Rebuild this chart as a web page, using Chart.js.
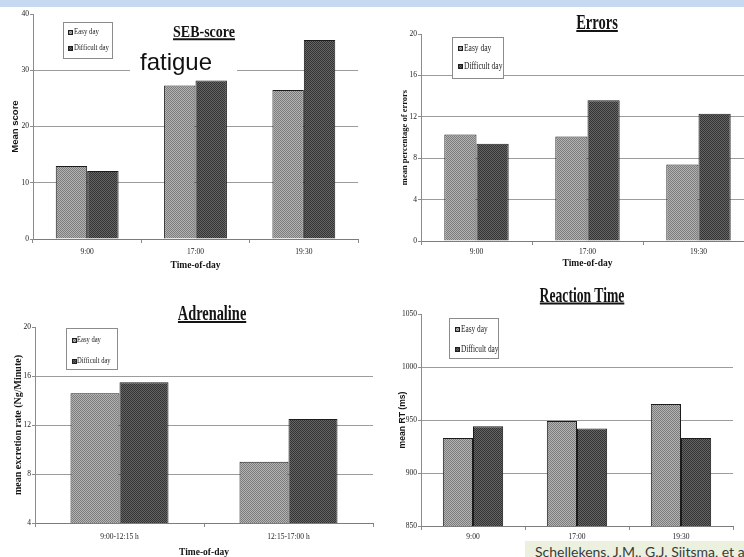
<!DOCTYPE html>
<html>
<head>
<meta charset="utf-8">
<script src="https://cdn.jsdelivr.net/npm/chart.js@4.4.1/dist/chart.umd.min.js"></script>
<style>
  html, body { margin: 0; padding: 0; width: 744px; height: 557px; overflow: hidden; background: #fff; }
  .band { position: absolute; left: 0; top: 0; width: 744px; height: 7px; background: #c6d9f1; }
  #charts { position: absolute; left: 0; top: 0; width: 760px; height: 580px; filter: blur(0.35px); }
  #charts canvas { position: absolute; }
  .ttl { position: absolute; font-family: "Liberation Serif", serif; font-weight: bold; color: #141414;
         text-decoration: underline; text-decoration-thickness: 1.5px; white-space: nowrap; line-height: 1; }
  .fatigue { position: absolute; left: 130px; top: 49px; width: 107px; height: 27px; background: #fff;
             font-family: "Liberation Sans", Arial, sans-serif; font-size: 24px; line-height: 27px; color: #111; }
  .fatigue span { position: absolute; left: 10px; top: -1px; }
  .cite { position: absolute; left: 525px; top: 541px; width: 219px; height: 16px; background: #ebf1de; overflow: hidden; }
  .cite span { position: absolute; left: 10px; top: 1px; font-family: Lato, sans-serif; font-size: 14px;
               line-height: 20px; color: #3a3a3a; white-space: nowrap; }
</style>
</head>
<body>
<div class="band"></div>
<div id="charts"></div>
<div class="fatigue"><span>fatigue</span></div>
<div class="cite"><span>Schellekens, J.M., G.J. Sijtsma, et al.</span></div>

<script>
// ---- data ----
const seriesNames = ['Easy day', 'Difficult day'];
const timesOfDay = ['9:00', '17:00', '19:30'];
const adrenalinePeriods = ['9:00-12:15 h', '12:15-17:00 h'];

const sebEasy = [13.0, 27.3, 26.5];
const sebDifficult = [12.1, 28.2, 35.4];
const sebTicks = [0, 10, 20, 30, 40];

const errorsEasy = [10.3, 10.1, 7.4];
const errorsDifficult = [9.4, 13.6, 12.3];
const errorsTicks = [0, 4, 8, 12, 16, 20];

const adrenalineEasy = [14.6, 9.0];
const adrenalineDifficult = [15.5, 12.5];
const adrenalineTicks = [4, 8, 12, 16, 20];

const rtEasy = [933, 949, 965];
const rtDifficult = [944, 942, 933];
const rtTicks = [850, 900, 950, 1000, 1050];

// ---- fine hatched fills like a laser-printed bar chart ----
function hatch(ctx, base, ink) {
  const t = document.createElement('canvas');
  t.width = t.height = 4;
  const g = t.getContext('2d');
  g.fillStyle = base; g.fillRect(0, 0, 4, 4);
  g.fillStyle = ink;
  for (let i = 0; i < 4; i++) { g.fillRect(i, i, 1, 1); g.fillRect(i, (i + 2) % 4, 1, 1); }
  return ctx.createPattern(t, 'repeat');
}

// ---- boxed legend drawn inside the plot ----
const boxLegend = {
  id: 'boxLegend',
  afterDraw(chart, args, o) {
    const ctx = chart.ctx;
    ctx.save();
    ctx.fillStyle = '#fff';
    ctx.fillRect(o.x, o.y, o.w, o.h);
    ctx.strokeStyle = '#8c8c8c'; ctx.lineWidth = 1;
    ctx.strokeRect(o.x + 0.5, o.y + 0.5, o.w, o.h);
    chart.data.datasets.forEach((ds, i) => {
      const ry = Math.round(o.rows[i]);
      ctx.fillStyle = ds.backgroundColor;
      ctx.fillRect(o.sx, ry - Math.floor(o.s / 2), o.s, o.s);
      ctx.strokeStyle = '#1e1e1e';
      ctx.strokeRect(o.sx + 0.5, ry - Math.floor(o.s / 2) + 0.5, o.s - 1, o.s - 1);
      ctx.save();
      ctx.translate(o.tx, ry);
      ctx.scale(o.squeeze, 1);
      ctx.font = o.size + 'px "Liberation Serif"';
      ctx.fillStyle = '#1a1a1a';
      ctx.textBaseline = 'middle';
      ctx.fillText(ds.label, 0, 0);
      ctx.restore();
    });
    ctx.restore();
  }
};

function makePanel(p) {
  const holder = document.getElementById('charts');
  const cv = document.createElement('canvas');
  cv.width = p.box.w; cv.height = p.box.h;
  cv.style.left = p.box.x + 'px'; cv.style.top = p.box.y + 'px';
  cv.style.width = p.box.w + 'px'; cv.style.height = p.box.h + 'px';
  holder.appendChild(cv);
  const ctx = cv.getContext('2d');

  const ticks = p.ticks;
  const yMax = ticks[ticks.length - 1];
  const lg = p.legend;

  new Chart(ctx, {
    type: 'bar',
    data: {
      labels: p.labels,
      datasets: [
        { label: seriesNames[0], data: p.easy, backgroundColor: hatch(ctx, '#b3b3b3', '#7c7c7c') },
        { label: seriesNames[1], data: p.difficult, backgroundColor: hatch(ctx, '#656565', '#333333') }
      ].map(d => Object.assign(d, { borderColor: '#1c1c1c', borderWidth: 1, categoryPercentage: 0.58, barPercentage: 1 }))
    },
    options: {
      responsive: false,
      devicePixelRatio: 1,
      animation: false,
      events: [],
      layout: { padding: { left: 0, top: p.top - p.box.y, right: p.box.x + p.box.w - p.right, bottom: 0 } },
      plugins: {
        legend: { display: false },
        tooltip: { enabled: false },
        boxLegend: {
          x: lg.x - p.box.x, y: lg.y - p.box.y, w: lg.w, h: lg.h,
          sx: lg.sx - p.box.x, tx: lg.tx - p.box.x, s: 5,
          rows: lg.rows.map(r => r - p.box.y), size: lg.size, squeeze: lg.squeeze
        }
      },
      scales: {
        x: {
          afterFit: s => { s.height = p.box.y + p.box.h - p.bottom; },
          border: { color: '#7c7c7c', width: 1 },
          grid: { drawOnChartArea: false, tickLength: 4, color: '#8a8a8a' },
          ticks: { color: '#222', font: { family: 'Liberation Serif', size: 7.5 }, padding: p.xPad, maxRotation: 0 },
          title: p.xTitle ? { display: true, text: 'Time-of-day', color: '#141414',
                   font: { family: 'Liberation Serif', size: 9.5, weight: 'bold' },
                   padding: { top: 0, bottom: p.xTitlePad } } : { display: false }
        },
        y: {
          min: ticks[0], max: yMax,
          afterFit: s => { s.width = p.axis - p.box.x; },
          afterBuildTicks: s => { s.ticks = ticks.map(v => ({ value: v })); },
          border: { color: '#8c8c8c', width: 1 },
          grid: {
            tickLength: 3, tickColor: '#8c8c8c',
            color: c => (c.tick && c.tick.value === yMax) ? 'rgba(0,0,0,0)' : '#9c9c9c'
          },
          ticks: { color: '#222', padding: 1, font: { family: 'Liberation Serif', size: 7.5 }, callback: v => String(v) },
          title: { display: true, text: p.yTitle, color: '#141414',
                   font: { family: p.yFont, size: p.ySize, weight: 'bold' },
                   padding: { top: p.yTitlePad, bottom: 0 } }
        }
      }
    },
    plugins: [boxLegend]
  });

  const t = document.createElement('div');
  t.className = 'ttl';
  t.textContent = p.title.text;
  t.style.fontSize = p.title.size + 'px';
  t.style.left = p.title.cx + 'px';
  t.style.top = p.title.cy + 'px';
  t.style.transform = 'translate(-50%, -50%) scaleX(' + p.title.squeeze + ')';
  holder.appendChild(t);
}

makePanel({
  box: { x: 8, y: 8, w: 354, h: 272 }, axis: 33, top: 14, bottom: 239, right: 358,
  labels: timesOfDay, easy: sebEasy, difficult: sebDifficult, ticks: sebTicks,
  yTitle: 'Mean score', yFont: 'Liberation Sans', ySize: 9.5, yTitlePad: 1.3,
  xTitle: true, xTitlePad: 8.3, xPad: 5,
  title: { text: 'SEB-score', size: 17.5, cx: 204, cy: 32, squeeze: 0.8 },
  legend: { x: 63, y: 22, w: 49, h: 36, sx: 68, tx: 74, rows: [31.5, 48], size: 9, squeeze: 0.76 }
});

makePanel({
  box: { x: 392, y: 8, w: 366, h: 272 }, axis: 421, top: 34, bottom: 241, right: 754,
  labels: timesOfDay, easy: errorsEasy, difficult: errorsDifficult, ticks: errorsTicks,
  yTitle: 'mean percentage of errors', yFont: 'Liberation Serif', ySize: 8.5, yTitlePad: 7.9,
  xTitle: true, xTitlePad: 10.3, xPad: 3,
  title: { text: 'Errors', size: 22, cx: 597, cy: 21.5, squeeze: 0.66 },
  legend: { x: 452, y: 37, w: 51, h: 41, sx: 458, tx: 464, rows: [47.7, 65.7], size: 9.5, squeeze: 0.79 }
});

makePanel({
  box: { x: 4, y: 284, w: 372, h: 288 }, axis: 35, top: 327, bottom: 523, right: 373,
  labels: adrenalinePeriods, easy: adrenalineEasy, difficult: adrenalineDifficult, ticks: adrenalineTicks,
  yTitle: 'mean excretion rate (Ng/Minute)', yFont: 'Liberation Serif', ySize: 10, yTitlePad: 8,
  xTitle: true, xTitlePad: 13.3, xPad: 6,
  title: { text: 'Adrenaline', size: 20, cx: 212, cy: 313, squeeze: 0.72 },
  legend: { x: 66, y: 328, w: 51, h: 41, sx: 72, tx: 77, rows: [340, 361], size: 9, squeeze: 0.73 }
});

makePanel({
  box: { x: 392, y: 284, w: 346, h: 288 }, axis: 421, top: 314, bottom: 526, right: 733,
  labels: timesOfDay, easy: rtEasy, difficult: rtDifficult, ticks: rtTicks,
  yTitle: 'mean RT (ms)', yFont: 'Liberation Sans', ySize: 8.6, yTitlePad: 5.8,
  xTitle: false, xPad: 3,
  title: { text: 'Reaction Time', size: 21, cx: 582, cy: 294.5, squeeze: 0.65 },
  legend: { x: 449, y: 318, w: 49, h: 40, sx: 455, tx: 461, rows: [329, 349], size: 9.5, squeeze: 0.77 }
});
</script>
</body>
</html>
